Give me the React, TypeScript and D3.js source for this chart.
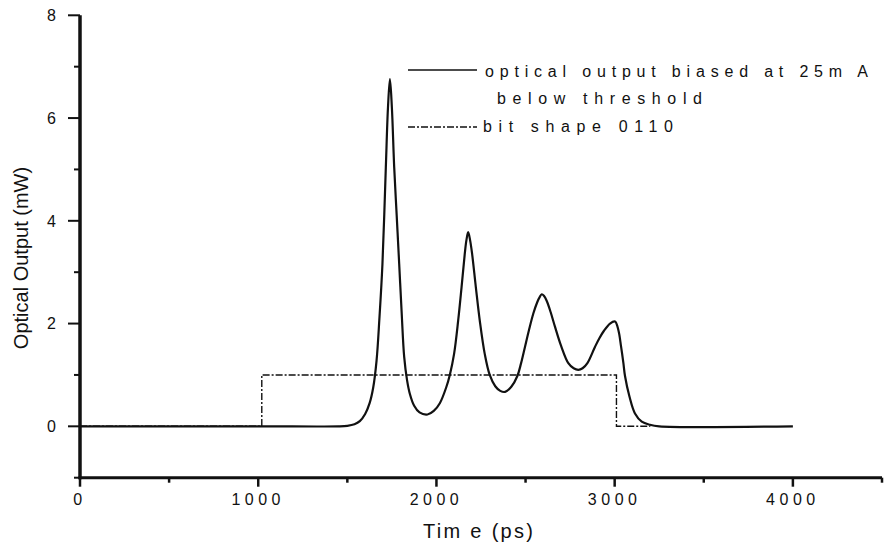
import React from "react";
import * as d3 from "d3";

const outputTime = [0, 1000, 1450, 1500, 1540, 1570, 1600, 1625, 1645, 1664, 1680, 1697, 1716, 1728, 1739, 1750, 1763, 1777, 1791, 1805, 1819, 1835, 1851, 1875, 1905, 1950, 1985, 2019, 2056, 2075, 2099, 2122, 2141, 2159, 2168, 2178, 2189, 2200, 2221, 2243, 2271, 2299, 2330, 2358, 2385, 2420, 2454, 2475, 2497, 2519, 2544, 2566, 2580, 2591, 2603, 2619, 2641, 2665, 2699, 2740, 2770, 2796, 2820, 2847, 2890, 2915, 2940, 2974, 3002, 3021, 3036, 3049, 3058, 3083, 3114, 3152, 3198, 3250, 4000];
const outputPower = [0, 0, 0, 0.01, 0.04, 0.1, 0.24, 0.45, 0.75, 1.28, 2.1, 3.16, 5.04, 6.2, 6.76, 6.2, 5.04, 4.1, 3.16, 2.2, 1.35, 0.9, 0.63, 0.4, 0.27, 0.23, 0.3, 0.45, 0.77, 1.0, 1.41, 2.06, 2.71, 3.36, 3.62, 3.78, 3.62, 3.36, 2.71, 2.06, 1.41, 1.0, 0.78, 0.69, 0.67, 0.77, 0.98, 1.23, 1.55, 1.87, 2.2, 2.42, 2.52, 2.57, 2.54, 2.44, 2.22, 1.94, 1.57, 1.23, 1.13, 1.1, 1.13, 1.23, 1.55, 1.72, 1.86, 2.0, 2.04, 1.87, 1.55, 1.23, 0.98, 0.58, 0.25, 0.09, 0.03, 0, 0];

const bitTime = [0, 1020, 1020, 3010, 3010, 3200];
const bitLevel = [0, 0, 1, 1, 0, 0];

const xMajorTicks = [0, 1000, 2000, 3000, 4000];
const xMinorTicks = [500, 1500, 2500, 3500, 4500];
const yMajorTicks = [0, 2, 4, 6, 8];
const yMinorTicks = [-1, 1, 3, 5, 7];

const legendLabels = ["optical output biased at 25m A", "below threshold", "bit shape 0110"];
const xTitle = "Tim e (ps)";
const yTitle = "Optical Output (mW)";

const FONT = "'Liberation Sans', Arial, sans-serif";

export default function App() {
  const x = d3.scaleLinear().domain([0, 4500]).range([80, 882]);
  const y = d3.scaleLinear().domain([-1, 8]).range([477.7, 15.3]);

  const outData = outputTime.map((t, i) => [t, outputPower[i]] as [number, number]);
  const bitData = bitTime.map((t, i) => [t, bitLevel[i]] as [number, number]);

  const smooth = d3
    .line<[number, number]>()
    .x((d) => x(d[0]))
    .y((d) => y(d[1]))
    .curve(d3.curveCatmullRom.alpha(0.5));
  const step = d3
    .line<[number, number]>()
    .x((d) => x(d[0]))
    .y((d) => y(d[1]));

  const x0 = x(0);
  const yBottom = y(-1);

  return (
    <svg
      width={884}
      height={550}
      style={{ position: "absolute", left: 0, top: 0, background: "#fff" }}
      fontFamily={FONT}
    >
      <rect x={0} y={0} width={884} height={550} fill="#fff" />
      {/* data */}
      <path d={step(bitData) || ""} fill="none" stroke="#111" strokeWidth={1.4} strokeDasharray="7,2,2,2" />
      <path d={smooth(outData) || ""} fill="none" stroke="#111" strokeWidth={2.2} strokeLinejoin="round" />

      {/* axes */}
      <line x1={x0} x2={x0} y1={y(8)} y2={yBottom + 1.5} stroke="#111" strokeWidth={3.5} />
      <line x1={x0 - 1.5} x2={x(4500)} y1={yBottom} y2={yBottom} stroke="#111" strokeWidth={3} />
      {yMajorTicks.map((v) => (
        <g key={"ym" + v}>
          <line x1={x0 - 12} x2={x0} y1={y(v)} y2={y(v)} stroke="#111" strokeWidth={2} />
          <text x={56} y={y(v)} dy="0.36em" textAnchor="end" fontSize={16} fill="#111">
            {v}
          </text>
        </g>
      ))}
      {yMinorTicks.map((v) => (
        <line key={"yn" + v} x1={x0 - 6} x2={x0} y1={y(v)} y2={y(v)} stroke="#111" strokeWidth={2} />
      ))}
      {xMajorTicks.map((v) => (
        <g key={"xm" + v}>
          <line x1={x(v)} x2={x(v)} y1={yBottom} y2={yBottom + 9} stroke="#111" strokeWidth={2.5} />
          <text x={x(v)} y={505} textAnchor="middle" fontSize={16} letterSpacing="4.5px" fill="#111">
            {v}
          </text>
        </g>
      ))}
      {xMinorTicks.map((v) => (
        <line key={"xn" + v} x1={x(v)} x2={x(v)} y1={yBottom} y2={yBottom + 5} stroke="#111" strokeWidth={2.5} />
      ))}

      {/* titles */}
      <text x={423} y={538} fontSize={20} textLength={110} lengthAdjust="spacing" fill="#111">
        {xTitle}
      </text>
      <text transform={`translate(28,258) rotate(-90)`} textAnchor="middle" fontSize={20} fill="#111">
        {yTitle}
      </text>

      {/* legend */}
      <line x1={408} x2={477} y1={70} y2={70} stroke="#111" strokeWidth={1.6} />
      <text x={485} y={77} fontSize={16} textLength={383} lengthAdjust="spacing" fill="#111">
        {legendLabels[0]}
      </text>
      <text x={497} y={104} fontSize={16} textLength={205} lengthAdjust="spacing" fill="#111">
        {legendLabels[1]}
      </text>
      <line x1={408} x2={477} y1={127} y2={127} stroke="#111" strokeWidth={1.4} strokeDasharray="7,2,2,2" />
      <text x={483} y={132} fontSize={16} textLength={190} lengthAdjust="spacing" fill="#111">
        {legendLabels[2]}
      </text>
    </svg>
  );
}
